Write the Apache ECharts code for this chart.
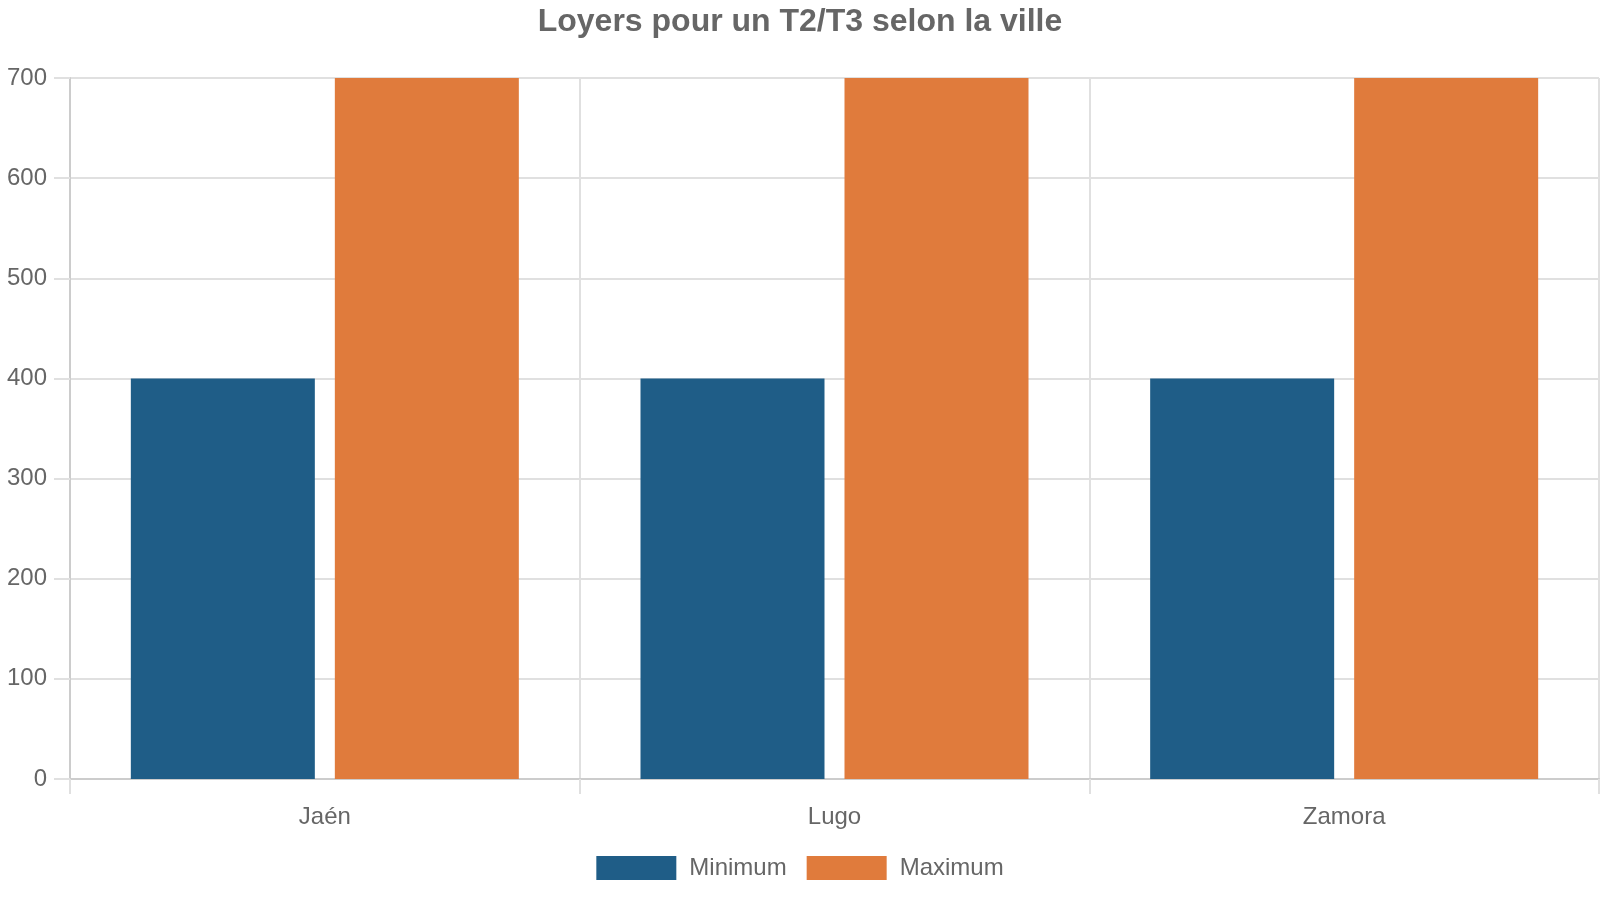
<!DOCTYPE html>
<html>
<head>
<meta charset="utf-8">
<script src="https://cdn.jsdelivr.net/npm/echarts@6/dist/echarts.min.js"></script>
<style>
html,body{margin:0;padding:0;background:#fff;}
#chart{width:1600px;height:900px;}
</style>
</head>
<body>
<div id="chart"></div>
<script>
var titleText = 'Loyers pour un T2/T3 selon la ville';
var categories = ['Jaén', 'Lugo', 'Zamora'];
var seriesNames = ['Minimum', 'Maximum'];
var minimumValues = [400, 400, 400];
var maximumValues = [700, 700, 700];
var yTicks = [0, 100, 200, 300, 400, 500, 600, 700];

var chart = echarts.init(document.getElementById('chart'), null, {renderer: 'canvas'});
var font = 'Liberation Sans, Arial, sans-serif';
chart.setOption({
  animation: false,
  backgroundColor: '#ffffff',
  title: {
    text: titleText,
    left: 'center',
    top: 1,
    textStyle: {fontFamily: font, fontSize: 32, fontWeight: 'bold', color: '#666666'}
  },
  legend: {
    data: seriesNames,
    top: 851,
    left: 'center',
    itemWidth: 80,
    itemHeight: 24,
    itemGap: 20,
    icon: 'rect',
    textStyle: {fontFamily: font, fontSize: 24, color: '#666666', padding: [0, 0, 0, 8]}
  },
  grid: {left: 70, right: 1, top: 78, bottom: 121, containLabel: false},
  xAxis: {
    type: 'category',
    data: categories,
    boundaryGap: true,
    axisLine: {show: true, lineStyle: {color: '#cccccc', width: 2}},
    axisTick: {show: true, length: 15, lineStyle: {color: '#e0e0e0', width: 2}},
    splitLine: {show: true, lineStyle: {color: '#e0e0e0', width: 2}},
    axisLabel: {fontFamily: font, fontSize: 24, color: '#666666', margin: 26}
  },
  yAxis: {
    type: 'value',
    min: yTicks[0],
    max: yTicks[yTicks.length - 1],
    interval: 100,
    axisLine: {show: true, lineStyle: {color: '#cccccc', width: 2}},
    axisTick: {show: true, length: 16, lineStyle: {color: '#e0e0e0', width: 2}},
    splitLine: {show: true, lineStyle: {color: '#e0e0e0', width: 2}},
    axisLabel: {fontFamily: font, fontSize: 24, color: '#666666', margin: 23}
  },
  series: [
    {
      name: seriesNames[0],
      type: 'bar',
      data: minimumValues,
      barWidth: 184,
      barGap: '10.87%',
      itemStyle: {color: '#1f5d87'}
    },
    {
      name: seriesNames[1],
      type: 'bar',
      data: maximumValues,
      barWidth: 184,
      barGap: '10.87%',
      itemStyle: {color: '#e07b3c'}
    }
  ]
});
</script>
</body>
</html>
